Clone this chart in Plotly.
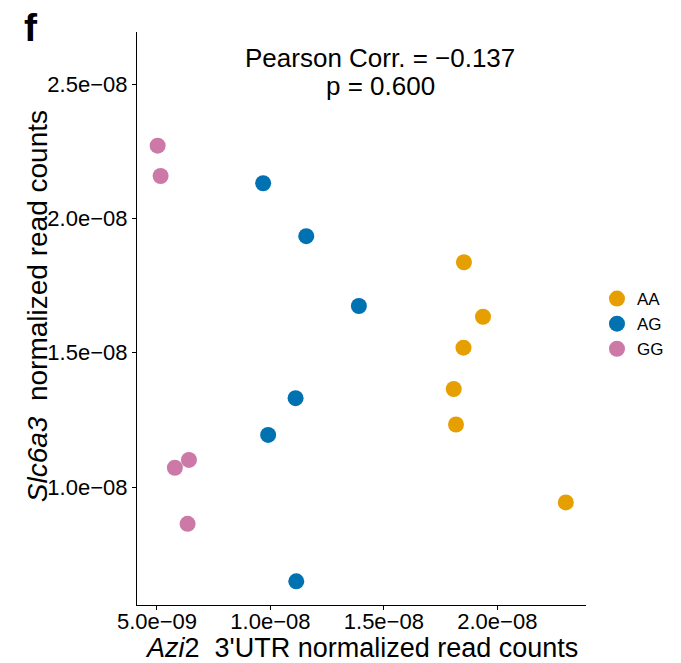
import plotly.graph_objects as go

groups = ["AA", "AG", "GG"]
colors = ["#E69F00", "#0072B2", "#CC79A7"]

aa_x = [18.53e-9, 19.37e-9, 18.51e-9, 18.08e-9, 18.18e-9, 23.02e-9]
aa_y = [18.37e-9, 16.34e-9, 15.19e-9, 13.65e-9, 12.33e-9, 9.43e-9]
ag_x = [9.68e-9, 11.58e-9, 13.90e-9, 11.11e-9, 9.90e-9, 11.14e-9]
ag_y = [21.31e-9, 19.34e-9, 16.74e-9, 13.31e-9, 11.94e-9, 6.49e-9]
gg_x = [5.03e-9, 5.16e-9, 5.79e-9, 6.41e-9, 6.35e-9]
gg_y = [22.71e-9, 21.58e-9, 10.72e-9, 11.01e-9, 8.63e-9]

x_tickvals = [5e-9, 1.0e-8, 1.5e-8, 2.0e-8]
x_ticktext = ["5.0e\u221209", "1.0e\u221208", "1.5e\u221208", "2.0e\u221208"]
y_tickvals = [1.0e-8, 1.5e-8, 2.0e-8, 2.5e-8]
y_ticktext = ["1.0e\u221208", "1.5e\u221208", "2.0e\u221208", "2.5e\u221208"]

font = "Liberation Sans, Arial, Helvetica, sans-serif"

fig = go.Figure()
for name, xs, ys, c in zip(groups, [aa_x, ag_x, gg_x], [aa_y, ag_y, gg_y], colors):
    fig.add_trace(go.Scatter(x=xs, y=ys, mode="markers", name=name,
                             marker=dict(color=c, size=16, line=dict(width=0))))

axis_common = dict(showgrid=False, zeroline=False, showline=True, linecolor="black",
                   linewidth=1.2, ticks="outside", ticklen=4, tickcolor="black",
                   automargin=False,
                   tickfont=dict(size=22, color="black", family=font))

# screen-pixel geometry of the plotting area (page has an 8px body offset)
L, T, W, H = 137, 32, 450, 573


def px(xp):
    return (xp - L) / W


def py(yp):
    return (T + H - yp) / H


fig.update_layout(
    width=673, height=655,
    margin=dict(l=129, r=86, t=24, b=58),
    plot_bgcolor="white", paper_bgcolor="white",
    font=dict(family=font, color="black"),
    xaxis=dict(range=[4.12e-9, 23.91e-9], tickvals=x_tickvals, ticktext=x_ticktext,
               ticklabelstandoff=-8, **axis_common),
    yaxis=dict(range=[5.61e-9, 26.94e-9], tickvals=y_tickvals, ticktext=y_ticktext,
               **axis_common),
    legend=dict(x=px(598), y=py(324), xanchor="left", yanchor="middle",
                font=dict(size=17, color="black"), itemsizing="trace",
                tracegroupgap=0, bgcolor="rgba(0,0,0,0)"),
    annotations=[
        dict(text="Pearson Corr. = \u22120.137", xref="paper", yref="paper",
             x=px(381), y=py(58), xanchor="center", yanchor="middle", showarrow=False,
             font=dict(size=26, color="black")),
        dict(text="p = 0.600", xref="paper", yref="paper",
             x=px(381), y=py(86), xanchor="center", yanchor="middle", showarrow=False,
             font=dict(size=26, color="black")),
        dict(text="<b>f</b>", xref="paper", yref="paper", x=px(23), y=py(27),
             xanchor="left", yanchor="middle", showarrow=False, borderpad=0,
             font=dict(size=39, color="black")),
        dict(text="<i>Azi</i>2  3'UTR normalized read counts", xref="paper", yref="paper",
             x=px(362), y=py(648), xanchor="center", yanchor="middle", showarrow=False,
             font=dict(size=27, color="black")),
        dict(text="<i>Slc6a3</i>  normalized read counts", xref="paper", yref="paper",
             x=px(37), y=py(306), xanchor="center", yanchor="middle", showarrow=False,
             textangle=-90, font=dict(size=28, color="black")),
    ],
)

fig.write_html("out.html")
